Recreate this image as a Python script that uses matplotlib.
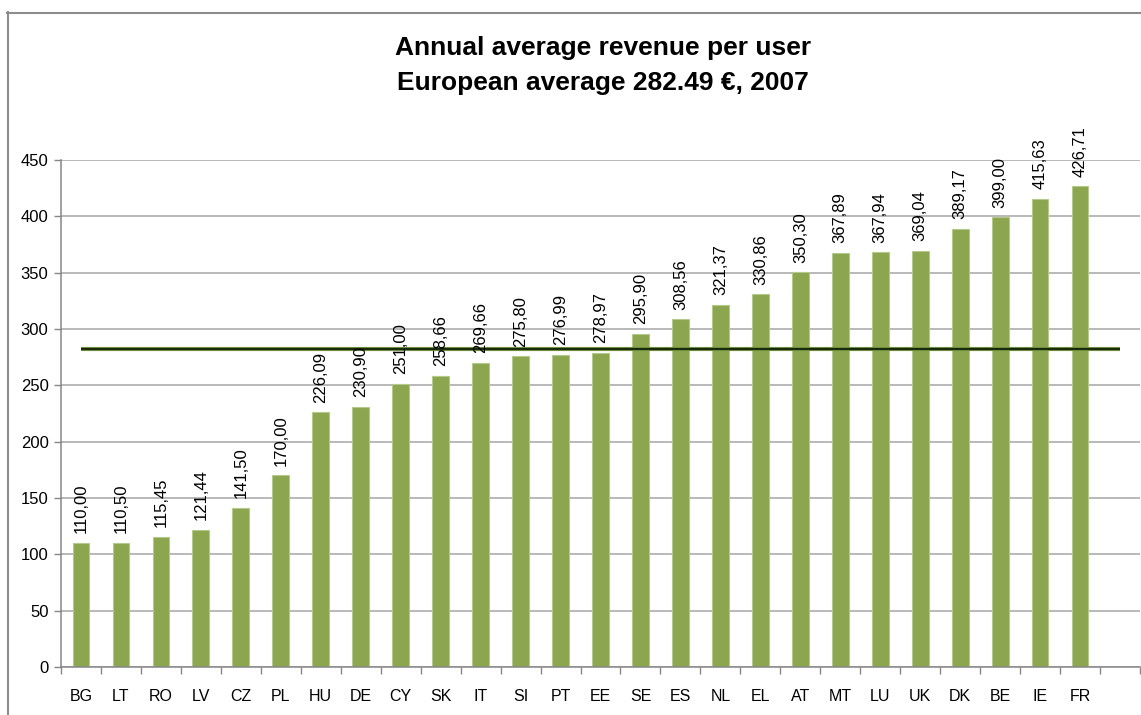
import numpy as np
import matplotlib.pyplot as plt
from matplotlib.lines import Line2D

plt.rcParams['font.family'] = ['Liberation Sans', 'DejaVu Sans']

# ARPU per country, 2007 (EUR)
countries = ["BG", "LT", "RO", "LV", "CZ", "PL", "HU", "DE", "CY", "SK", "IT", "SI", "PT",
             "EE", "SE", "ES", "NL", "EL", "AT", "MT", "LU", "UK", "DK", "BE", "IE", "FR"]
values = [110.00, 110.50, 115.45, 121.44, 141.50, 170.00, 226.09, 230.90, 251.00, 258.66,
          269.66, 275.80, 276.99, 278.97, 295.90, 308.56, 321.37, 330.86, 350.30, 367.89,
          367.94, 369.04, 389.17, 399.00, 415.63, 426.71]
eu_average = 282.49
n_slots = len(countries) + 1  # excel leaves one empty category at the end

fig = plt.figure(figsize=(11.41, 7.15), dpi=100)
ax = fig.add_axes([61 / 1141, 1 - 667 / 715, 1079 / 1141, 507 / 715])

x = np.arange(len(countries))
ax.bar(x, values, width=0.42, color="#8ba64e", edgecolor="#b5c98a", linewidth=0.8, zorder=2)

# average line runs over all slots incl. the empty one
xa = np.arange(n_slots)
ax.plot(xa, [eu_average] * n_slots, color="#7a9a45", lw=3.0, zorder=3, solid_capstyle="butt")
ax.plot(xa, [eu_average] * n_slots, color="#1c2a0c", lw=1.6, zorder=3, solid_capstyle="butt")

for xi, v in zip(x, values):
    ax.annotate(f"{v:.2f}".replace(".", ","), (xi, v), xytext=(0, 7), textcoords="offset points",
                rotation=90, ha="center", va="bottom", fontsize=12, zorder=4)

ax.set_xlim(-0.5, n_slots - 0.5)
ax.set_ylim(0, 450)
ax.set_yticks(np.arange(0, 451, 50))
ax.yaxis.grid(True, color="#a6a6a6", lw=1.1, zorder=0)
ax.set_axisbelow(True)

ax.set_xticks(x)
ax.set_xticklabels(countries, fontsize=11.5)
ax.set_xticks(np.arange(-0.5, n_slots, 1), minor=True)
ax.tick_params(axis="x", which="major", length=0, pad=16)
ax.tick_params(axis="x", which="minor", length=5, color="#868686", width=1)
ax.tick_params(axis="y", length=5, color="#868686", width=1, labelsize=12, pad=4)

for s in ["top", "right"]:
    ax.spines[s].set_visible(False)
for s in ["left", "bottom"]:
    ax.spines[s].set_color("#868686")
    ax.spines[s].set_linewidth(1.1)

fig.text(603 / 1141, 1 - 48 / 715, "Annual average revenue per user", ha="center", va="center",
         fontsize=19, fontweight="bold")
fig.text(603 / 1141, 1 - 83 / 715, "European average 282.49 €, 2007", ha="center", va="center",
         fontsize=19, fontweight="bold")

# chart frame (cropped on the right and bottom)
fig.add_artist(Line2D([7.5 / 1141, 7.5 / 1141], [0, 1 - 12 / 715], color="#8c8c8c", lw=1.5))
fig.add_artist(Line2D([7 / 1141, 1], [1 - 12.5 / 715, 1 - 12.5 / 715], color="#8c8c8c", lw=1.5))

fig.savefig("out.png", dpi=100)
